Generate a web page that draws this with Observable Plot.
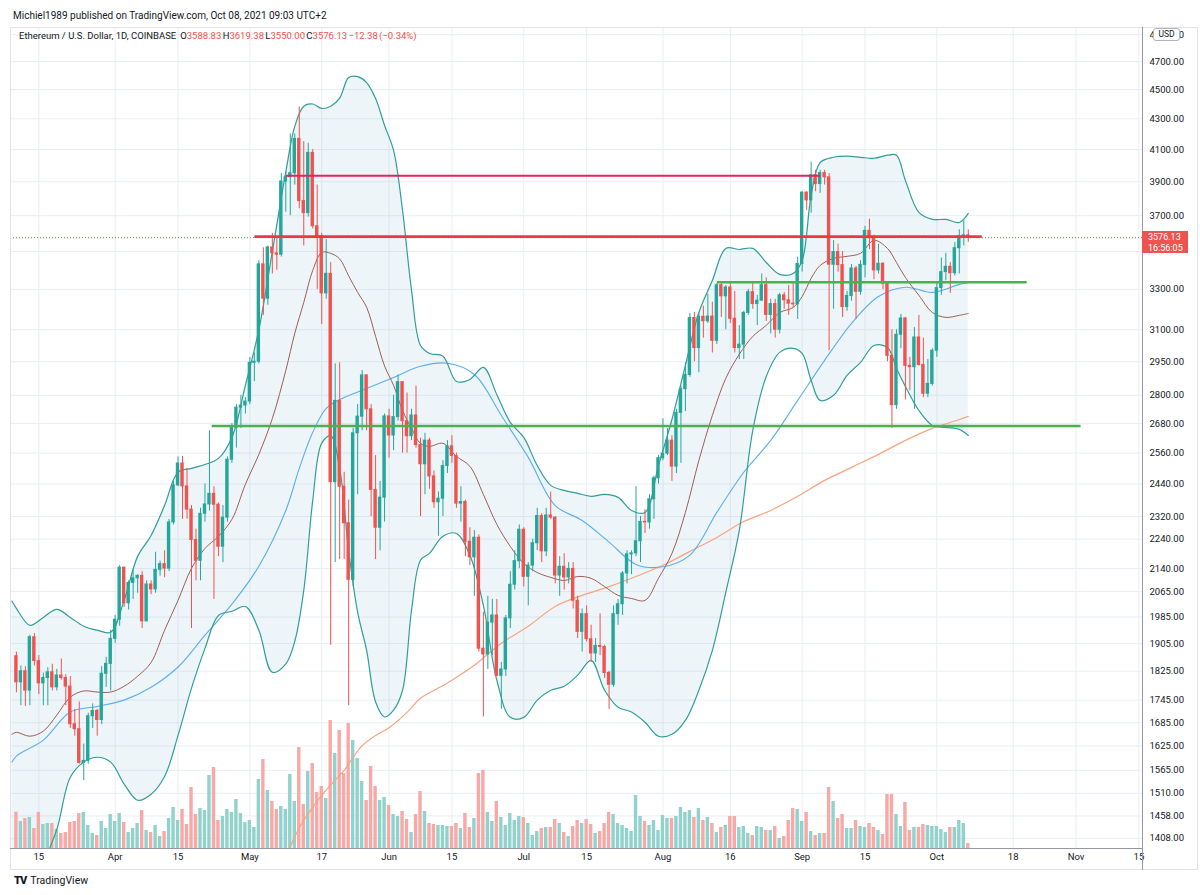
<!DOCTYPE html>
<html>
<head>
<meta charset="utf-8">
<script src="https://cdn.jsdelivr.net/npm/d3@7"></script>
<script src="https://cdn.jsdelivr.net/npm/@observablehq/plot@0.6"></script>
<style>
  html,body{margin:0;padding:0;background:#fff;}
  #wrap{position:relative;width:1200px;height:895px;overflow:hidden;background:#fff;font-family:Roboto,"Noto Sans",sans-serif;color:#131722;}
  .layer{position:absolute;left:0;top:0;}
  .layer svg{display:block;}
  .ln{position:absolute;}
  #hdr{position:absolute;left:13px;top:10px;font-size:10px;line-height:12px;white-space:nowrap;color:#131722;}
  #legend{position:absolute;left:19px;top:30px;font-size:9.5px;line-height:12px;white-space:nowrap;color:#131722;}
  #legend .v{color:#ef5350;}
  #legend .ohlc{margin-left:4px;word-spacing:-1px;}
  #usd{position:absolute;left:1153px;top:28px;width:25px;height:11px;border:1px solid #b2b5be;border-radius:3px;background:#fff;font-size:8.5px;line-height:11px;text-align:center;color:#131722;}
  #plabel{position:absolute;left:1142px;width:46px;height:22px;background:#ef5350;color:#fff;font-size:9px;line-height:10.5px;padding-left:6px;box-sizing:border-box;padding-top:1px;}
  #logo{position:absolute;left:14px;top:874px;font-size:10.5px;white-space:nowrap;color:#131722;}
  #logo b{font-weight:900;font-size:11px;letter-spacing:-1px;margin-right:4px;}
</style>
</head>
<body>
<div id="wrap">
  <div id="l1" class="layer"></div>
  <div id="l2" class="layer"></div>
  <div id="l3" class="layer"></div>
  <div class="ln" style="left:10px;top:27px;width:1187px;height:1px;background:#e0e3eb"></div>
  <div class="ln" style="left:10px;top:27px;width:1px;height:843px;background:#e0e3eb"></div>
  <div class="ln" style="left:1197px;top:27px;width:1px;height:843px;background:#e0e3eb"></div>
  <div class="ln" style="left:10px;top:869px;width:1187px;height:1px;background:#e0e3eb"></div>
  <div class="ln" style="left:10px;top:848px;width:1132px;height:1px;background:#9598a1"></div>
  <div class="ln" style="left:1142px;top:27px;width:1px;height:843px;background:#9598a1"></div>
  <div id="hdr">Michiel1989 published on TradingView.com, Oct 08, 2021 09:03 UTC+2</div>
  <div id="legend">Ethereum / U.S. Dollar, 1D, COINBASE<span class="ohlc">O<span class="v">3588.83</span> H<span class="v">3619.38</span> L<span class="v">3550.00</span> C<span class="v">3576.13</span> <span class="v">−12.38 (−0.34%)</span></span></div>
  <div id="usd">USD</div>
  <div id="plabel">3576.13<br>16:56:05</div>
  <div id="logo"><b>TV</b>TradingView</div>
</div>
<script>
// ---------------- DATA (daily candles, Mar 10 – Oct 8 2021) ----------------
const firstDay = "2021-03-10";
const lastDay = "2021-10-08";

const open = [
1868,1794,1825,1771,1924,1854,1791,1806,1822,1780,
1813,1806,1782,1681,1668,1583,1588,1702,1716,1692,
1818,1846,1919,1977,2143,2028,2093,2108,2116,1972,
2088,2072,2136,2155,2140,2299,2435,2519,2431,2345,
2237,2166,2330,2364,2403,2363,2214,2316,2534,2662,
2747,2756,2773,2945,2950,3431,3253,3522,3490,3483,
3902,3928,3952,4168,3785,3715,4079,3640,3585,3280,
3381,2447,2776,2430,2296,2103,2640,2709,2888,2740,
2418,2280,2389,2710,2631,2707,2858,2690,2628,2714,
2592,2516,2610,2469,2372,2385,2509,2587,2549,2367,
2373,2231,2178,2245,1890,1873,1968,1990,1812,1830,
1981,2087,2165,2273,2113,2150,2226,2322,2198,2324,
2316,2117,2146,2111,2139,2036,1940,1994,1918,1876,
1898,1895,1820,1787,1994,2025,2124,2188,2191,2233,
2301,2299,2383,2462,2540,2558,2610,2507,2725,2827,
2890,3157,3013,3163,3141,3164,3047,3322,3265,3310,
3153,3013,3029,3182,3286,3226,3243,3322,3172,3226,
3100,3270,3245,3228,3225,3433,3835,3789,3940,3886,
3953,3927,3429,3497,3427,3211,3267,3409,3288,3428,
3614,3573,3399,3434,3330,2977,2758,3076,3155,2931,
2925,3063,2935,2807,2850,3001,3307,3390,3418,3384,
3518,3584,3588.83];

const high = [
1880,1840,1838,1930,1935,1870,1820,1835,1845,1830,
1860,1815,1810,1720,1740,1630,1710,1735,1720,1838,
1865,1945,1990,2150,2145,2100,2135,2120,2130,2100,
2100,2195,2165,2200,2310,2450,2545,2547,2500,2360,
2275,2350,2440,2650,2430,2370,2360,2545,2680,2760,
2800,2790,2970,2990,3450,3520,3530,3600,3580,3950,
3960,4200,4200,4380,4150,4140,4100,3880,3600,3565,
3440,2940,2945,2485,2380,2660,2760,2910,2890,2760,
2550,2450,2720,2740,2800,2890,2860,2810,2740,2840,
2620,2640,2620,2490,2410,2530,2610,2630,2560,2430,
2380,2280,2270,2255,2000,2050,2040,2040,1850,1990,
2130,2200,2290,2280,2160,2240,2350,2330,2350,2410,
2320,2180,2190,2160,2160,2050,2010,2020,1960,1920,
1995,1900,1825,2020,2040,2130,2200,2200,2430,2320,
2345,2400,2470,2550,2700,2660,2630,2740,2840,2945,
3180,3185,3180,3215,3275,3235,3330,3330,3320,3330,
3290,3120,3190,3300,3340,3270,3380,3360,3250,3250,
3280,3285,3320,3340,3470,3840,3840,4020,3970,3970,
3970,3950,3560,3540,3500,3290,3430,3420,3450,3640,
3680,3590,3540,3440,3330,3100,3100,3175,3160,2970,
3110,3170,3060,2960,3010,3340,3465,3490,3440,3550,
3620,3670,3619.38];

const low = [
1765,1730,1728,1730,1840,1760,1730,1730,1770,1770,
1800,1730,1670,1650,1580,1540,1580,1670,1650,1680,
1780,1770,1906,1957,2015,2007,2040,2060,1950,1970,
2055,2060,2115,2110,2130,2290,2430,2310,2310,1950,
2100,2100,2300,2340,2040,2180,2160,2300,2520,2580,
2660,2720,2760,2860,2940,3170,3220,3380,3400,3470,
3720,3700,3880,3740,3530,3692,3625,3300,3125,3250,
1900,2160,2170,2170,1730,2080,2400,2650,2650,2320,
2170,2200,2300,2540,2570,2690,2560,2560,2610,2580,
2320,2400,2420,2350,2250,2320,2480,2520,2350,2300,
2180,2150,2050,1880,1700,1830,1870,1810,1720,1810,
1950,2070,2140,2080,2020,2130,2200,2160,2180,2310,
2090,2050,2070,2090,2010,1920,1880,1910,1850,1850,
1870,1805,1720,1780,1960,1990,2090,2120,2180,2160,
2260,2275,2310,2440,2530,2550,2450,2480,2520,2730,
2880,2950,2900,3060,3130,2990,3030,3160,3100,3130,
2990,2960,2960,3170,3200,3120,3240,3140,3080,3060,
3080,3200,3170,3210,3150,3390,3730,3715,3840,3830,
3880,3000,3200,3390,3160,3190,3240,3150,3270,3360,
3510,3350,3380,3300,2950,2660,2740,3010,2780,2820,
2740,2930,2790,2790,2840,2970,3270,3345,3280,3370,
3380,3530,3550];

const close = [
1794,1825,1771,1924,1854,1791,1806,1822,1780,1813,
1806,1782,1681,1668,1583,1588,1702,1716,1692,1818,
1846,1919,1977,2143,2028,2093,2108,2116,1972,2088,
2072,2136,2155,2140,2299,2435,2519,2431,2345,2237,
2166,2330,2364,2403,2363,2214,2316,2534,2662,2747,
2756,2773,2945,2950,3431,3253,3522,3490,3483,3902,
3928,3952,4168,3785,3715,4079,3640,3585,3280,3381,
2447,2776,2430,2296,2103,2640,2709,2888,2740,2418,
2280,2389,2710,2631,2707,2858,2690,2628,2714,2592,
2516,2610,2469,2372,2385,2509,2587,2549,2367,2373,
2231,2178,2245,1890,1873,1968,1990,1812,1830,1981,
2087,2165,2273,2113,2150,2226,2322,2198,2324,2316,
2117,2146,2111,2139,2036,1940,1994,1918,1876,1898,
1895,1820,1787,1994,2025,2124,2188,2191,2233,2301,
2299,2383,2462,2540,2558,2610,2507,2725,2827,2890,
3157,3013,3163,3141,3164,3047,3322,3265,3310,3153,
3013,3029,3182,3286,3226,3243,3322,3172,3226,3100,
3270,3245,3228,3225,3433,3835,3789,3940,3886,3953,
3927,3429,3497,3427,3211,3267,3409,3288,3428,3614,
3573,3399,3434,3330,2977,2758,3076,3155,2931,2925,
3063,2935,2807,2850,3001,3307,3390,3418,3384,3518,
3584,3588.83,3576.13];

// volume (thousand ETH)
const volume = [
363,270,300,310,200,360,240,250,250,190,
150,160,260,270,350,360,230,150,130,270,
200,340,270,350,260,160,200,250,380,180,
160,230,120,170,300,410,280,390,240,610,
340,400,380,730,810,280,320,390,360,490,
350,260,280,210,690,890,580,470,390,420,
390,740,470,1010,440,770,850,560,620,500,
1280,950,1180,750,1250,1080,900,670,480,820,
620,480,510,430,340,320,370,290,160,340,
570,370,250,240,230,230,220,220,250,200,
350,210,300,750,780,360,270,470,310,230,
350,280,320,310,250,130,170,200,210,210,
290,250,160,120,220,280,250,290,240,150,
170,250,360,340,250,230,200,170,530,320,
270,230,280,180,330,300,300,320,410,360,
380,310,400,280,310,250,160,210,230,320,
320,210,220,150,130,220,210,180,180,220,
100,120,280,400,390,270,360,170,130,150,
150,610,470,300,340,200,200,280,220,210,
250,210,180,140,540,540,340,220,460,180,
210,210,240,230,220,220,190,160,210,210,
280,250,50];

// Bollinger Bands (20, 2)
const bbDates = ["2021-03-09","2021-03-10","2021-03-13","2021-03-16","2021-03-19","2021-03-22","2021-03-25","2021-03-28","2021-03-31","2021-04-03","2021-04-06",
"2021-04-09","2021-04-12","2021-04-15","2021-04-18","2021-04-21","2021-04-24","2021-04-27","2021-04-30","2021-05-03","2021-05-06",
"2021-05-09","2021-05-11","2021-05-13","2021-05-15","2021-05-17","2021-05-19","2021-05-21","2021-05-23","2021-05-25","2021-05-27",
"2021-05-29","2021-05-31","2021-06-02","2021-06-04","2021-06-06","2021-06-08","2021-06-10","2021-06-13","2021-06-16","2021-06-19",
"2021-06-22","2021-06-25","2021-06-28","2021-07-01","2021-07-04","2021-07-07","2021-07-10","2021-07-13","2021-07-16","2021-07-19",
"2021-07-22","2021-07-25","2021-07-28","2021-07-31","2021-08-03","2021-08-06","2021-08-09","2021-08-12","2021-08-15","2021-08-18",
"2021-08-21","2021-08-24","2021-08-27","2021-08-30","2021-09-01","2021-09-03","2021-09-05","2021-09-08","2021-09-11","2021-09-14",
"2021-09-17","2021-09-20","2021-09-22","2021-09-24","2021-09-27","2021-09-30","2021-10-03","2021-10-06","2021-10-08"];
const bbUpper = [2035,2012,1960,1984,2009,1984,1957,1945,1939,2037,2181,
2253,2360,2485,2500,2515,2539,2623,2844,3100,3500,
3960,4250,4385,4400,4370,4385,4440,4584,4591,4549,
4437,4256,4094,3730,3295,3025,2988,2975,2861,2870,
2924,2803,2685,2623,2511,2435,2416,2405,2394,2401,
2390,2342,2335,2511,2697,2933,3184,3346,3517,3511,
3517,3441,3378,3383,3452,3818,4018,4051,4058,4051,
4045,4064,4064,3908,3719,3679,3679,3661,3713];
const bbLower = [1280,1300,1330,1360,1428,1548,1585,1597,1585,1532,1494,
1508,1550,1652,1778,1891,1990,2003,2018,1945,1822,
1846,1912,2069,2379,2600,2630,2500,2200,2000,1885,
1740,1700,1718,1772,2006,2168,2191,2250,2260,2185,
2021,1800,1699,1699,1745,1772,1783,1814,1856,1772,
1726,1713,1686,1650,1655,1691,1772,1885,2063,2271,
2652,2883,2993,3012,2988,2866,2778,2800,2888,2947,
3025,3016,2920,2839,2735,2672,2664,2656,2631];
const bbBasis = [1655,1660,1650,1663,1705,1753,1770,1767,1767,1783,1811,
1850,1945,2037,2141,2208,2250,2310,2439,2555,2701,
2910,3083,3234,3399,3495,3490,3460,3370,3285,3210,
3068,2930,2844,2735,2660,2599,2587,2599,2547,2508,
2401,2292,2215,2157,2127,2111,2101,2114,2108,2081,
2053,2043,2037,2108,2191,2335,2531,2714,2875,2984,
3068,3121,3184,3209,3264,3357,3425,3463,3474,3490,
3561,3517,3441,3362,3270,3184,3160,3170,3179];

// 50-day SMA (blue)
const ma50Dates = ["2021-03-09","2021-03-10","2021-03-16","2021-03-22","2021-03-28","2021-04-03","2021-04-09","2021-04-15","2021-04-21","2021-04-27","2021-05-03",
"2021-05-09","2021-05-12","2021-05-15","2021-05-18","2021-05-21","2021-05-27","2021-06-02","2021-06-08","2021-06-14","2021-06-20",
"2021-06-26","2021-07-02","2021-07-08","2021-07-14","2021-07-20","2021-07-26","2021-08-01","2021-08-07","2021-08-13","2021-08-19",
"2021-08-25","2021-08-31","2021-09-06","2021-09-12","2021-09-18","2021-09-24","2021-09-30","2021-10-06","2021-10-08"];
const ma50 = [1585,1600,1640,1713,1728,1745,1780,1837,1930,2025,2148,
2342,2500,2644,2744,2782,2830,2879,2929,2943,2892,
2714,2543,2360,2306,2230,2154,2146,2185,2335,2485,
2611,2778,2956,3131,3264,3311,3285,3326,3336];

// 200-day SMA (orange)
const ma200Dates = ["2021-05-09","2021-05-10","2021-05-12","2021-05-15","2021-05-17","2021-05-19","2021-05-22","2021-05-24","2021-05-26","2021-05-29",
"2021-06-01","2021-06-05","2021-06-08","2021-06-14","2021-06-20","2021-06-26","2021-07-02","2021-07-08","2021-07-14","2021-07-20",
"2021-07-26","2021-08-01","2021-08-07","2021-08-13","2021-08-19","2021-08-25","2021-08-31","2021-09-06","2021-09-12","2021-09-18",
"2021-09-24","2021-09-30","2021-10-06","2021-10-08"];
const ma200 = [1375,1391,1431,1478,1505,1530,1565,1597,1626,1652,
1672,1712,1750,1792,1842,1906,1957,2018,2053,2081,
2114,2151,2198,2246,2302,2342,2394,2454,2504,2555,
2611,2660,2697,2710];

// user-drawn horizontal levels
const levelStart = ["2021-05-09","2021-05-02","2021-08-13","2021-04-22T12:00"];
const levelEnd   = ["2021-09-05","2021-10-11","2021-10-21","2021-11-02"];
const levelPrice = [3937, 3582, 3337, 2670];
const levelKind  = ["top", "resistance", "support", "support"];

// axis ticks
const gridTicks = [4900,4700,4500,4300,4100,3900,3700,3500,3300,3100,2950,2800,2680,2560,2440,2320,2240,2140,2065,1985,1905,1825,1745,1685,1625,1565,1510,1458,1408];
const hiddenTickLabels = [3500];
const xTickDates = ["2021-03-15","2021-04-01","2021-04-15","2021-05-01","2021-05-17","2021-06-01","2021-06-15","2021-07-01","2021-07-15","2021-08-01","2021-08-16","2021-09-01","2021-09-15","2021-10-01","2021-10-18","2021-11-01","2021-11-15"];
const xTickLabels = ["15","Apr","15","May","17","Jun","15","Jul","15","Aug","16","Sep","15","Oct","18","Nov","15"];
const lastPrice = 3576.13;

// ---------------- BUILD ----------------
const DAY = 864e5;
const UP = "#26a69a", DN = "#ef5350";
const dates = d3.utcDay.range(new Date(firstDay), d3.utcDay.offset(new Date(lastDay), 1));
const rows = dates.map((date, i) => ({date, open: open[i], high: high[i], low: low[i], close: close[i], volume: volume[i], up: close[i] >= open[i]}));
const bb = bbDates.map((d, i) => ({date: new Date(d), upper: bbUpper[i], lower: bbLower[i], basis: bbBasis[i]}));
const m50 = ma50Dates.map((d, i) => ({date: new Date(d), v: ma50[i]}));
const m200 = ma200Dates.map((d, i) => ({date: new Date(d), v: ma200[i]}));
const levels = levelPrice.map((p, i) => ({x1: new Date(levelStart[i]), x2: new Date(levelEnd[i]), y: p, kind: levelKind[i]}));
const levelColor = {top: "#e2245c", resistance: "#f2363f", support: "#4caf50"};
const levelWidth = {top: 2, resistance: 2.6, support: 2.6};
const xTicks = xTickDates.map(d => new Date(d));
const xLabel = new Map(xTicks.map((d, i) => [+d, xTickLabels[i]]));

const d0 = new Date(firstDay);
const xDomain = [new Date(+d0 - 1.314 * DAY), new Date(+d0 + 250.8 * DAY)];
const yDomain = [1386.2, 4946.9];
const base = {
  width: 1200, height: 870, marginTop: 28, marginBottom: 22, marginLeft: 10, marginRight: 58,
  style: {background: "transparent", overflow: "visible", fontFamily: "Roboto, 'Noto Sans', sans-serif", color: "#131722"}
};
const half = 0.38 * DAY;

// layer 1: grid + band fill
const p1 = Plot.plot({
  ...base,
  x: {type: "utc", domain: xDomain, axis: null},
  y: {type: "log", domain: yDomain, axis: null},
  marks: [
    Plot.gridY(gridTicks, {stroke: "#e9eef4", strokeOpacity: 1}),
    Plot.gridX(xTicks, {stroke: "#e9eef4", strokeOpacity: 1}),
    Plot.areaY(bb, {x: "date", y1: "lower", y2: "upper", fill: "#5b9fc0", fillOpacity: 0.1, curve: "catmull-rom", clip: true})
  ]
});
document.getElementById("l1").appendChild(p1);

// layer 2: volume overlay
const p2 = Plot.plot({
  ...base,
  x: {type: "utc", domain: xDomain, axis: null},
  y: {domain: [0, 8200], axis: null},
  marks: [
    Plot.rect(rows, {x1: d => new Date(+d.date - half), x2: d => new Date(+d.date + half), y1: 0, y2: "volume",
      fill: d => d.up ? "#92d2cc" : "#f7a9a7"})
  ]
});
document.getElementById("l2").appendChild(p2);

// layer 3: indicators, candles, drawings, axes
const p3 = Plot.plot({
  ...base,
  x: {type: "utc", domain: xDomain},
  y: {type: "log", domain: yDomain},
  marks: [
    Plot.line(m200, {x: "date", y: "v", stroke: "#f9a47e", strokeWidth: 1.2, curve: "catmull-rom", clip: true}),
    Plot.line(m50, {x: "date", y: "v", stroke: "#5aaef0", strokeWidth: 1.1, curve: "catmull-rom", clip: true}),
    Plot.line(bb, {x: "date", y: "basis", stroke: "#9f5c53", strokeWidth: 1, curve: "catmull-rom", clip: true}),
    Plot.line(bb, {x: "date", y: "upper", stroke: "#2f9f95", strokeWidth: 1.2, curve: "catmull-rom", clip: true}),
    Plot.line(bb, {x: "date", y: "lower", stroke: "#2f9f95", strokeWidth: 1.2, curve: "catmull-rom", clip: true}),
    Plot.ruleX(rows, {x: "date", y1: "low", y2: "high", stroke: d => d.up ? UP : DN, strokeWidth: 1, clip: true}),
    Plot.rect(rows, {x1: d => new Date(+d.date - half), x2: d => new Date(+d.date + half),
      y1: d => Math.min(d.open, d.close), y2: d => Math.max(d.open, d.close),
      fill: d => d.up ? UP : DN, insetTop: -0.5, insetBottom: -0.5}),
    Plot.ruleY([lastPrice], {stroke: DN, strokeWidth: 1, strokeDasharray: "1,2"}),
    Plot.link(levels, {x1: "x1", x2: "x2", y1: "y", y2: "y", stroke: d => levelColor[d.kind], strokeWidth: d => levelWidth[d.kind]}),
    Plot.axisY(gridTicks.filter(v => !hiddenTickLabels.includes(v)), {anchor: "right", tickSize: 0, tickPadding: 7, tickFormat: d3.format(".2f"), fontSize: 9.5, label: null}),
    Plot.axisX(xTicks, {anchor: "bottom", tickSize: 0, tickPadding: 5, tickFormat: d => xLabel.get(+d), fontSize: 9.5, label: null})
  ]
});
document.getElementById("l3").appendChild(p3);

// price badge placed through the y scale
const yPx = p3.scale("y").apply(lastPrice);
document.getElementById("plabel").style.top = (yPx - 6) + "px";
</script>
</body>
</html>
